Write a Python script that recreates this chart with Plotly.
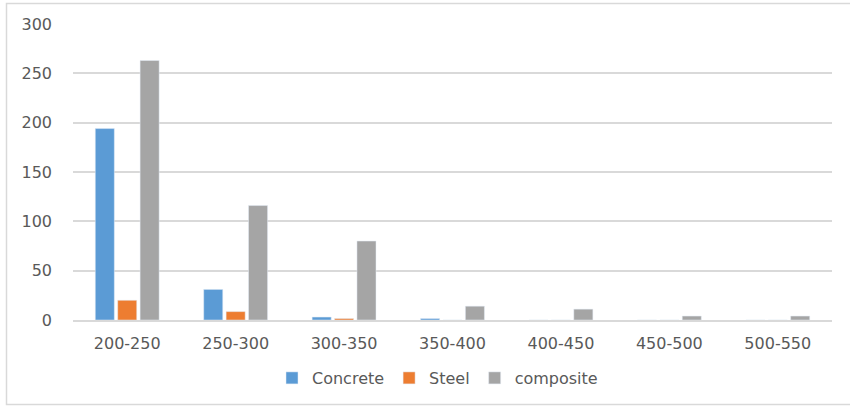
import plotly.graph_objects as go

categories = ["200-250", "250-300", "300-350", "350-400", "400-450", "450-500", "500-550"]
concrete = [194, 31, 3, 1.5, 0, 0, 0]
steel = [20, 8.5, 1.5, 0, 0, 0, 0]
composite = [263, 116, 80, 14, 11, 4, 4]

W, H = 850, 406
ML, MR, MT, MB = 73, 18, 24, 86

fig = go.Figure()
fig.add_trace(go.Bar(name="Concrete", x=categories, y=concrete, marker_color="#5B9BD5"))
fig.add_trace(go.Bar(name="Steel", x=categories, y=steel, marker_color="#ED7D31"))
fig.add_trace(go.Bar(name="composite", x=categories, y=composite, marker_color="#A5A5A5"))

font = dict(family="DejaVu Sans", size=15, color="#595959")

# outer chart frame, expressed in paper units
pw, ph = W - ML - MR, H - MT - MB
def px_x(p):
    return (p - ML) / pw
def px_y(p):
    return (H - MB - p) / ph

fig.update_layout(
    width=W, height=H,
    margin=dict(l=ML, r=MR, t=MT, b=MB, autoexpand=False),
    paper_bgcolor="white", plot_bgcolor="white",
    barmode="group", bargap=0.38, bargroupgap=0.15,
    font=font,
    showlegend=True,
    legend=dict(orientation="h", xref="container", yref="container",
                x=272 / W, xanchor="left", y=1 - 378 / H, yanchor="middle",
                font=dict(family="DejaVu Sans", size=16, color="#595959"),
                itemwidth=30, traceorder="normal", bgcolor="rgba(0,0,0,0)"),
    xaxis=dict(showgrid=False, showline=True, linecolor="#d9d9d9", linewidth=1.5,
               ticks="", tickfont=dict(size=16), ticklabelstandoff=8, automargin=False),
    yaxis=dict(range=[0, 300], dtick=50, showgrid=True, gridcolor="#d9d9d9", gridwidth=1.5,
               zeroline=False, showline=False, ticks="", tickfont=dict(size=16),
               ticklabelstandoff=20, automargin=False),
    shapes=[dict(type="rect", xref="paper", yref="paper",
                 x0=px_x(6.5), x1=px_x(851), y0=px_y(404.5), y1=px_y(3.5),
                 line=dict(color="#d9d9d9", width=1.5), layer="below")],
)

fig.write_html("out.html")
